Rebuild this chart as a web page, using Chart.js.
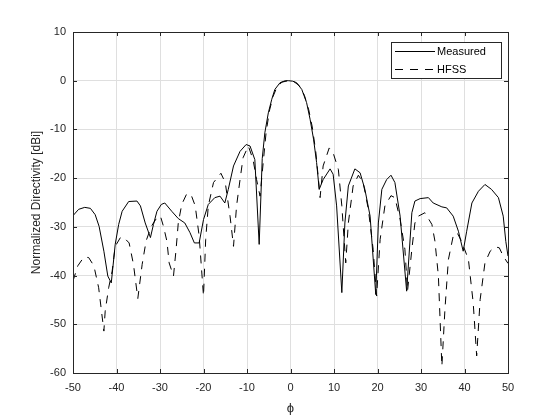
<!DOCTYPE html>
<html>
<head>
<meta charset="utf-8">
<script src="https://cdn.jsdelivr.net/npm/chart.js@4/dist/chart.umd.min.js"></script>
<style>
  html, body { margin: 0; padding: 0; background: #fff; }
  #wrap { width: 560px; height: 420px; }
</style>
</head>
<body>
<div id="wrap"><canvas id="directivityChart"></canvas></div>
<script>
// angles (deg) and normalized directivity (dBi)
const phiMeasured = [-50, -48.7, -47.3, -46, -44.9, -44, -42.9, -42, -41.2, -40.6, -40.3, -39.5, -38.7, -37.2, -35.3,
    -34.5, -33.4, -32.2, -31.5, -30.7, -29.7, -28.9, -27.3, -25.8, -24.3, -23.1, -22.1, -21, -20, -18.9, -17.4, -16.2,
    -15.1, -14.3, -13.1, -11.6, -10.2, -9.3, -8.2, -7.2, -6.5, -5.9, -5.1, -4.3, -3.6, -2.4, -1.2, -0.4, 0.5, 1.4, 2.6,
    3.7, 4.5, 5.3, 6, 6.6, 7.5, 9.1, 9.8, 10.6, 11.8, 12.5, 13.3, 14.8, 16, 17.1, 18.3, 19.6, 20.2, 21, 22.1, 23.1, 24,
    25.2, 26.7, 27.9, 28.6, 29.8, 31.7, 32.8, 34.8, 35.9, 37.4, 38.6, 39.7, 40.5, 41.7, 43.2, 44.7, 46.2, 47.8, 48.9,
    49.5, 50];
const dirMeasured = [-27.7, -26.4, -26, -26.2, -27.5, -29.9, -35, -40.1, -41.5, -36.3, -33.6, -29.5, -26.8, -24.8, -24.7,
    -25.7, -29.2, -32.2, -29.5, -26.8, -25.4, -25.1, -26.8, -28.3, -29.2, -31.2, -33.3, -33.3, -28.5, -25.4, -24, -23.7,
    -25.1, -22.3, -17.5, -14.5, -13.1, -13.4, -16.2, -33.6, -16, -10.7, -6.6, -3.8, -1.8, -0.4, 0, 0, -0.1, -0.4, -1.8,
    -4.5, -7.9, -12, -16.8, -22.3, -20.3, -18.1, -19.2, -25.7, -43.5, -29.2, -21.6, -18.1, -18.9, -22.3, -27.8, -43.9,
    -29.2, -22.3, -20.3, -19.4, -20.9, -27.8, -43.2, -27.1, -24.7, -24.2, -24, -25.1, -25.9, -26.1, -27.8, -30.9, -35,
    -30.9, -25.1, -22.7, -21.3, -22.3, -24, -27.8, -33, -36];

const phiHfss = [-50, -48.9, -47.5, -46.4, -45.2, -44.1, -42.9, -42.6, -41.8, -41, -40.3, -39.1, -38.4, -37.1, -36.1,
    -35.1, -34.1, -33.2, -32, -30.7, -29.9, -29.2, -28.4, -27.9, -26.9, -26.3, -25.8, -25, -23.9, -22.9, -21.9, -21, -20,
    -19.5, -18.9, -17.7, -16, -15, -13.9, -13.1, -12.4, -11.6, -10.9, -9.7, -8.6, -7.8, -7, -6.3, -5.6, -4.8, -4, -3.2,
    -2, -0.5, 0.8, 2, 3.2, 4.2, 5, 5.8, 6.4, 6.8, 7.5, 8.9, 9.8, 11, 11.8, 12.7, 13.3, 14.4, 15.6, 16.7, 17.9, 19, 19.8,
    20.6, 21.7, 23.1, 24, 25.2, 26.3, 26.9, 27.9, 28.6, 29.4, 30.9, 32.5, 33.2, 34, 34.8, 35.5, 36.3, 37.4, 38.3, 39.3,
    40.9, 42, 42.8, 43.6, 44.7, 45.9, 47, 48, 48.9, 50];
const dirHfss = [-41.1, -38, -36.2, -36.3, -38, -42.5, -51.4, -47.3, -42.5, -39.1, -34, -32.2, -32.1, -33.3, -37.7,
    -44.7, -37.7, -32.9, -29.9, -28.1, -27.8, -29.9, -33, -37.4, -40.1, -34.6, -29.2, -25.4, -23.3, -23.3, -25.7, -31.9,
    -44.2, -32.6, -25.7, -20.9, -19, -20.9, -27.8, -34, -25.7, -20.3, -15.8, -13.4, -16.2, -20.3, -23.7, -17, -10.5, -6,
    -3.2, -1.5, -0.3, 0, -0.2, -1, -3, -6, -9.5, -14.5, -20, -24, -17.5, -13.8, -14.8, -18.2, -25.7, -37.4, -29.2, -21.6,
    -19.4, -20.9, -26.4, -34.6, -44.2, -32.6, -25.7, -23.6, -24, -28.5, -34.6, -43.2, -34.6, -29.2, -27.8, -27.1, -29.5,
    -32.9, -40.1, -58.6, -47, -36.7, -31.9, -31.2, -32.9, -36.7, -45.6, -56.5, -44.9, -37.4, -35, -34.1, -34.3, -36, -37.5];

const seriesNames = ['Measured', 'HFSS'];
const xTicks = [-50, -40, -30, -20, -10, 0, 10, 20, 30, 40, 50];
const yTicks = [-60, -50, -40, -30, -20, -10, 0, 10];

const axisColor = '#262626';
const gridColor = 'rgb(223, 223, 223)';
const fontFamily = '"Liberation Sans", Arial, sans-serif';

function toPoints(xs, ys) {
    return xs.map((x, i) => ({ x: x, y: ys[i] }));
}

// matlab style box with inward ticks on all four sides, plus the legend
const matlabBox = {
    id: 'matlabBox',
    afterDraw(chart) {
        const ctx = chart.ctx;
        const area = chart.chartArea;
        const xs = chart.scales.x;
        const ys = chart.scales.y;
        const tick = 4;
        ctx.save();
        ctx.strokeStyle = axisColor;
        ctx.lineWidth = 1;
        ctx.beginPath();
        xTicks.forEach(v => {
            const px = Math.round(xs.getPixelForValue(v)) + 0.5;
            ctx.moveTo(px, area.bottom);
            ctx.lineTo(px, area.bottom - tick);
            ctx.moveTo(px, area.top);
            ctx.lineTo(px, area.top + tick);
        });
        yTicks.forEach(v => {
            const py = Math.round(ys.getPixelForValue(v)) + 0.5;
            ctx.moveTo(area.left, py);
            ctx.lineTo(area.left + tick, py);
            ctx.moveTo(area.right, py);
            ctx.lineTo(area.right - tick, py);
        });
        ctx.stroke();
        ctx.strokeRect(Math.round(area.left) + 0.5, Math.round(area.top) + 0.5,
            Math.round(area.right - area.left), Math.round(area.bottom - area.top));

        // legend
        const bx = 391.5, by = 42.5, bw = 110, bh = 36;
        ctx.fillStyle = '#fff';
        ctx.fillRect(bx, by, bw, bh);
        ctx.strokeStyle = axisColor;
        ctx.strokeRect(bx, by, bw, bh);
        ctx.font = '11px ' + fontFamily;
        ctx.textBaseline = 'middle';
        ctx.fillStyle = '#000';
        const rows = [51.5, 69.5];
        chart.data.datasets.forEach((ds, i) => {
            ctx.strokeStyle = ds.borderColor;
            ctx.setLineDash(ds.borderDash || []);
            ctx.beginPath();
            ctx.moveTo(395, rows[i]);
            ctx.lineTo(435, rows[i]);
            ctx.stroke();
            ctx.setLineDash([]);
            ctx.fillText(ds.label, 437, rows[i] + 0.5);
        });
        ctx.restore();
    }
};

const ctx = document.getElementById('directivityChart').getContext('2d');
new Chart(ctx, {
    type: 'line',
    data: {
        datasets: [{
            label: seriesNames[0],
            data: toPoints(phiMeasured, dirMeasured),
            borderColor: '#000',
            borderWidth: 1,
            pointRadius: 0,
            tension: 0,
            fill: false
        }, {
            label: seriesNames[1],
            data: toPoints(phiHfss, dirHfss),
            borderColor: '#000',
            borderWidth: 1,
            borderDash: [8, 7],
            pointRadius: 0,
            tension: 0,
            fill: false
        }]
    },
    options: {
        responsive: true,
        maintainAspectRatio: false,
        animation: false,
        layout: { padding: { left: 25, right: 52, top: 32, bottom: 0 } },
        plugins: {
            legend: { display: false },
            tooltip: { enabled: false }
        },
        scales: {
            x: {
                type: 'linear',
                min: -50,
                max: 50,
                afterBuildTicks: scale => { scale.ticks = xTicks.map(v => ({ value: v })); },
                afterFit: scale => { scale.height = 47; },
                grid: { color: gridColor, drawTicks: false },
                border: { display: false },
                ticks: {
                    color: axisColor,
                    padding: 8,
                    font: { family: fontFamily, size: 11 }
                },
                title: {
                    display: true,
                    text: '\u03D5',
                    color: axisColor,
                    font: { family: fontFamily, size: 13 }
                }
            },
            y: {
                min: -60,
                max: 10,
                afterBuildTicks: scale => { scale.ticks = yTicks.map(v => ({ value: v })); },
                afterFit: scale => { scale.width = 48; },
                grid: { color: gridColor, drawTicks: false },
                border: { display: false },
                ticks: {
                    color: axisColor,
                    padding: 7,
                    font: { family: fontFamily, size: 11 }
                },
                title: {
                    display: true,
                    text: 'Normalized Directivity [dBi]',
                    color: axisColor,
                    font: { family: fontFamily, size: 12 }
                }
            }
        }
    },
    plugins: [matlabBox]
});
</script>
</body>
</html>
